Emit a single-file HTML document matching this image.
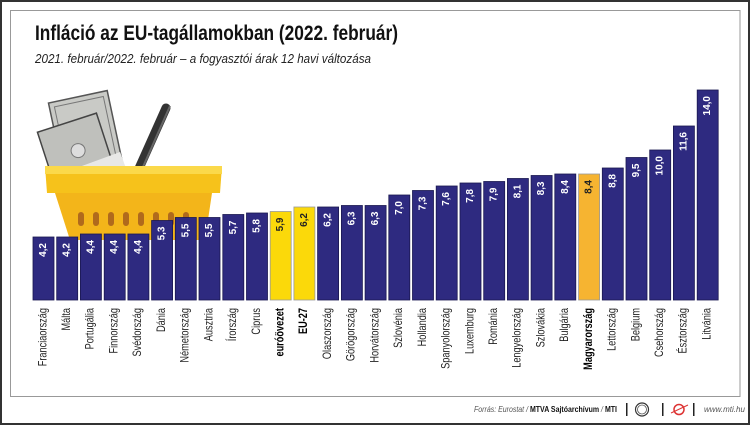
<!DOCTYPE html>
<html><head><meta charset="utf-8"><style>
html,body{margin:0;padding:0;background:#fff}
svg{display:block}
text{font-family:"Liberation Sans",Arial,sans-serif}
</style></head><body>
<svg width="750" height="425" viewBox="0 0 750 425" xmlns="http://www.w3.org/2000/svg">
<rect x="1" y="1" width="748" height="423" fill="#fff" stroke="#333" stroke-width="2"/>
<rect x="10.5" y="10.5" width="729.5" height="386" fill="#fff" stroke="#999" stroke-width="1"/>
<text x="35" y="40" font-size="21" font-weight="bold" fill="#111" textLength="363" lengthAdjust="spacingAndGlyphs">Infláció az EU-tagállamokban (2022. február)</text>
<text x="35" y="63" font-size="12.5" font-style="italic" fill="#222" textLength="336" lengthAdjust="spacingAndGlyphs">2021. február/2022. február – a fogyasztói árak 12 havi változása</text>

<!-- basket -->
<g>
<g transform="rotate(-12 90 130)">
<rect x="55" y="95" width="60" height="80" fill="#c9cac6" stroke="#555" stroke-width="1.5"/>
<rect x="60" y="100" width="50" height="70" fill="none" stroke="#777" stroke-width="1"/>
</g>
<g transform="rotate(-18 80 150)">
<rect x="45" y="120" width="62" height="70" fill="#bfc0bc" stroke="#444" stroke-width="1.5"/>
<circle cx="78" cy="150" r="7" fill="#ddd" stroke="#777"/>
</g>
<rect x="80" y="160" width="45" height="25" fill="#e8e8e6" transform="rotate(-20 100 170)"/>
<line x1="166" y1="108" x2="128" y2="193" stroke="#333" stroke-width="9" stroke-linecap="round"/>
<line x1="170" y1="106" x2="135" y2="185" stroke="#666" stroke-width="2"/>
<path d="M45 166 L222 166 L220 193 L47 193 Z" fill="#f6c21b"/>
<rect x="45" y="166" width="177" height="8" fill="#fbd94a"/>
<path d="M55 193 L212 193 L205 240 L70 240 Z" fill="#f3b51a"/>
<g fill="#b06a1c">
<rect x="78" y="212" width="6" height="14" rx="3"/><rect x="93" y="212" width="6" height="14" rx="3"/>
<rect x="108" y="212" width="6" height="14" rx="3"/><rect x="123" y="212" width="6" height="14" rx="3"/>
<rect x="138" y="212" width="6" height="14" rx="3"/><rect x="153" y="212" width="6" height="14" rx="3"/>
<rect x="168" y="212" width="6" height="14" rx="3"/><rect x="183" y="212" width="6" height="14" rx="3"/>
</g>
</g>

<!-- bars -->
<g stroke="#1a1850" stroke-width="0.8">
<rect x="33.0" y="237" width="21" height="63" fill="#2e2a80"/>
<rect x="56.7" y="237" width="21" height="63" fill="#2e2a80"/>
<rect x="80.4" y="234" width="21" height="66" fill="#2e2a80"/>
<rect x="104.2" y="234" width="21" height="66" fill="#2e2a80"/>
<rect x="127.9" y="234" width="21" height="66" fill="#2e2a80"/>
<rect x="151.6" y="220.5" width="21" height="79.5" fill="#2e2a80"/>
<rect x="175.3" y="217.5" width="21" height="82.5" fill="#2e2a80"/>
<rect x="199.0" y="217.5" width="21" height="82.5" fill="#2e2a80"/>
<rect x="222.8" y="214.5" width="21" height="85.5" fill="#2e2a80"/>
<rect x="246.5" y="213" width="21" height="87" fill="#2e2a80"/>
<rect x="270.2" y="211.5" width="21" height="88.5" fill="#fbd90a" stroke="#999"/>
<rect x="293.9" y="207" width="21" height="93" fill="#fbd90a" stroke="#999"/>
<rect x="317.6" y="207" width="21" height="93" fill="#2e2a80"/>
<rect x="341.4" y="205.5" width="21" height="94.5" fill="#2e2a80"/>
<rect x="365.1" y="205.5" width="21" height="94.5" fill="#2e2a80"/>
<rect x="388.8" y="195" width="21" height="105" fill="#2e2a80"/>
<rect x="412.5" y="190.5" width="21" height="109.5" fill="#2e2a80"/>
<rect x="436.2" y="186" width="21" height="114" fill="#2e2a80"/>
<rect x="460.0" y="183" width="21" height="117" fill="#2e2a80"/>
<rect x="483.7" y="181.5" width="21" height="118.5" fill="#2e2a80"/>
<rect x="507.4" y="178.5" width="21" height="121.5" fill="#2e2a80"/>
<rect x="531.1" y="175.5" width="21" height="124.5" fill="#2e2a80"/>
<rect x="554.8" y="174" width="21" height="126" fill="#2e2a80"/>
<rect x="578.6" y="174" width="21" height="126" fill="#f6b431" stroke="#999"/>
<rect x="602.3" y="168" width="21" height="132" fill="#2e2a80"/>
<rect x="626.0" y="157.5" width="21" height="142.5" fill="#2e2a80"/>
<rect x="649.7" y="150" width="21" height="150" fill="#2e2a80"/>
<rect x="673.4" y="126" width="21" height="174" fill="#2e2a80"/>
<rect x="697.2" y="90" width="21" height="210" fill="#2e2a80"/>
</g>

<!-- values -->
<g font-size="10" font-weight="bold" fill="#fff" text-anchor="end" dominant-baseline="central">
<text transform="translate(43.5,243) rotate(-90)">4,2</text>
<text transform="translate(67.2,243) rotate(-90)">4,2</text>
<text transform="translate(90.9,240) rotate(-90)">4,4</text>
<text transform="translate(114.7,240) rotate(-90)">4,4</text>
<text transform="translate(138.4,240) rotate(-90)">4,4</text>
<text transform="translate(162.1,226.5) rotate(-90)">5,3</text>
<text transform="translate(185.8,223.5) rotate(-90)">5,5</text>
<text transform="translate(209.5,223.5) rotate(-90)">5,5</text>
<text transform="translate(233.3,220.5) rotate(-90)">5,7</text>
<text transform="translate(257.0,219) rotate(-90)">5,8</text>
<text transform="translate(280.7,217.5) rotate(-90)" fill="#222">5,9</text>
<text transform="translate(304.4,213) rotate(-90)" fill="#222">6,2</text>
<text transform="translate(328.1,213) rotate(-90)">6,2</text>
<text transform="translate(351.9,211.5) rotate(-90)">6,3</text>
<text transform="translate(375.6,211.5) rotate(-90)">6,3</text>
<text transform="translate(399.3,201) rotate(-90)">7,0</text>
<text transform="translate(423.0,196.5) rotate(-90)">7,3</text>
<text transform="translate(446.7,192) rotate(-90)">7,6</text>
<text transform="translate(470.5,189) rotate(-90)">7,8</text>
<text transform="translate(494.2,187.5) rotate(-90)">7,9</text>
<text transform="translate(517.9,184.5) rotate(-90)">8,1</text>
<text transform="translate(541.6,181.5) rotate(-90)">8,3</text>
<text transform="translate(565.3,180) rotate(-90)">8,4</text>
<text transform="translate(589.1,180) rotate(-90)" fill="#222">8,4</text>
<text transform="translate(612.8,174) rotate(-90)">8,8</text>
<text transform="translate(636.5,163.5) rotate(-90)">9,5</text>
<text transform="translate(660.2,156) rotate(-90)">10,0</text>
<text transform="translate(683.9,132) rotate(-90)">11,6</text>
<text transform="translate(707.7,96) rotate(-90)">14,0</text>
</g>

<!-- labels -->
<g font-size="11.5" fill="#222" text-anchor="end" dominant-baseline="central">
<text transform="translate(43.5,308) rotate(-90) scale(0.8,1)">Franciaország</text>
<text transform="translate(67.2,308) rotate(-90) scale(0.8,1)">Málta</text>
<text transform="translate(90.9,308) rotate(-90) scale(0.8,1)">Portugália</text>
<text transform="translate(114.7,308) rotate(-90) scale(0.8,1)">Finnország</text>
<text transform="translate(138.4,308) rotate(-90) scale(0.8,1)">Svédország</text>
<text transform="translate(162.1,308) rotate(-90) scale(0.8,1)">Dánia</text>
<text transform="translate(185.8,308) rotate(-90) scale(0.8,1)">Németország</text>
<text transform="translate(209.5,308) rotate(-90) scale(0.8,1)">Ausztria</text>
<text transform="translate(233.3,308) rotate(-90) scale(0.8,1)">Írország</text>
<text transform="translate(257.0,308) rotate(-90) scale(0.8,1)">Ciprus</text>
<text transform="translate(280.7,308) rotate(-90) scale(0.8,1)" font-weight="bold" fill="#000">euróövezet</text>
<text transform="translate(304.4,308) rotate(-90) scale(0.8,1)" font-weight="bold" fill="#000">EU-27</text>
<text transform="translate(328.1,308) rotate(-90) scale(0.8,1)">Olaszország</text>
<text transform="translate(351.9,308) rotate(-90) scale(0.8,1)">Görögország</text>
<text transform="translate(375.6,308) rotate(-90) scale(0.8,1)">Horvátország</text>
<text transform="translate(399.3,308) rotate(-90) scale(0.8,1)">Szlovénia</text>
<text transform="translate(423.0,308) rotate(-90) scale(0.8,1)">Hollandia</text>
<text transform="translate(446.7,308) rotate(-90) scale(0.8,1)">Spanyolország</text>
<text transform="translate(470.5,308) rotate(-90) scale(0.8,1)">Luxemburg</text>
<text transform="translate(494.2,308) rotate(-90) scale(0.8,1)">Románia</text>
<text transform="translate(517.9,308) rotate(-90) scale(0.8,1)">Lengyelország</text>
<text transform="translate(541.6,308) rotate(-90) scale(0.8,1)">Szlovákia</text>
<text transform="translate(565.3,308) rotate(-90) scale(0.8,1)">Bulgária</text>
<text transform="translate(589.1,308) rotate(-90) scale(0.8,1)" font-weight="bold" fill="#000">Magyarország</text>
<text transform="translate(612.8,308) rotate(-90) scale(0.8,1)">Lettország</text>
<text transform="translate(636.5,308) rotate(-90) scale(0.8,1)">Belgium</text>
<text transform="translate(660.2,308) rotate(-90) scale(0.8,1)">Csehország</text>
<text transform="translate(683.9,308) rotate(-90) scale(0.8,1)">Észtország</text>
<text transform="translate(707.7,308) rotate(-90) scale(0.8,1)">Litvánia</text>
</g>

<!-- footer -->
<text x="474" y="412" font-size="8" font-style="italic" fill="#555" textLength="143" lengthAdjust="spacingAndGlyphs">Forrás: Eurostat / <tspan font-weight="bold" font-style="normal" fill="#111">MTVA Sajtóarchívum</tspan> / <tspan font-weight="bold" font-style="normal" fill="#111">MTI</tspan></text>
<rect x="626" y="403" width="1.5" height="13" fill="#222"/>
<circle cx="642" cy="409.5" r="6.5" fill="#fff" stroke="#333" stroke-width="1.2"/>
<circle cx="642" cy="409.5" r="4.5" fill="none" stroke="#555" stroke-width="0.8"/>
<rect x="662" y="403" width="1.5" height="13" fill="#222"/>
<circle cx="679" cy="409.5" r="5" fill="none" stroke="#d33" stroke-width="1.5"/>
<line x1="671" y1="413" x2="688" y2="405" stroke="#d33" stroke-width="1"/>
<rect x="693" y="403" width="1.5" height="13" fill="#222"/>
<text x="704" y="412" font-size="8" font-style="italic" fill="#555">www.mti.hu</text>
</svg>
</body></html>
